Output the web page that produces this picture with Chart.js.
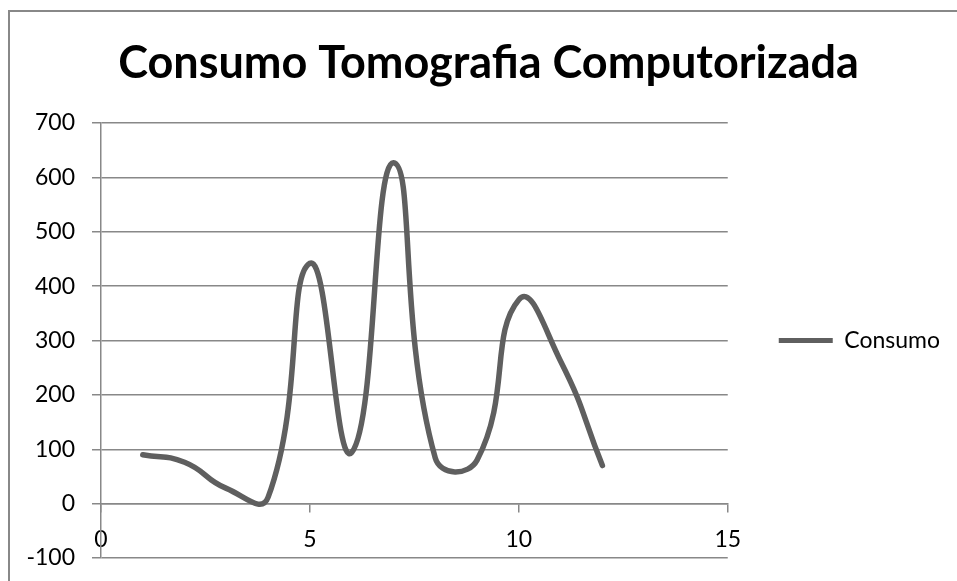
<!DOCTYPE html>
<html>
<head>
<meta charset="utf-8">
<script src="https://cdn.jsdelivr.net/npm/chart.js@4.4.0/dist/chart.umd.min.js"></script>
<style>
  html, body { margin: 0; padding: 0; background: #fff; }
  #wrap { position: relative; width: 957px; height: 581px; overflow: hidden; }
  #frame { position: absolute; left: 8px; top: 10px; width: 1000px; height: 1000px; border: 2px solid #888; }
  canvas { position: absolute; left: 0; top: 0; }
</style>
</head>
<body>
<div id="wrap">
  <div id="frame"></div>
  <canvas id="chart" width="957" height="581"></canvas>
</div>
<script>
// datos
var xValues = [1, 2, 3, 4, 5, 6, 7, 8, 9, 10, 11, 12];
var consumo = [90, 76, 28, 12, 442, 94, 627, 84, 80, 375, 262, 70];
var serieNombre = "Consumo";
var titulo = "Consumo Tomografia Computorizada";

var gris = "#888888";
var lineaColor = "#5f5f5f";
var fuente = "Lato, 'DejaVu Sans', sans-serif";

var puntos = xValues.map(function (x, i) {
  return { x: x, y: consumo[i] };
});

var ctx = document.getElementById("chart").getContext("2d");

var myChart = new Chart(ctx, {
  type: "scatter",
  data: {
    datasets: [
      {
        label: serieNombre,
        data: puntos,
        showLine: true,
        borderColor: lineaColor,
        backgroundColor: lineaColor,
        borderWidth: 5.5,
        borderCapStyle: "round",
        borderJoinStyle: "round",
        pointRadius: 0,
        tension: 0.5,
      },
    ],
  },
  options: {
    responsive: false,
    animation: false,
    layout: { padding: { left: 27, right: 7, top: 12, bottom: 23 } },
    plugins: {
      title: {
        display: true,
        text: titulo,
        color: "#000",
        font: { family: fuente, size: 45, weight: "bold" },
        padding: { top: 24, bottom: 33 },
      },
      legend: {
        position: "right",
        fullSize: false,
        labels: {
          color: "#000",
          font: { family: fuente, size: 23 },
          boxWidth: 54,
          boxHeight: 5,
          padding: 51,
          generateLabels: function (chart) {
            var items = Chart.defaults.plugins.legend.labels.generateLabels(chart);
            items.forEach(function (it) {
              it.lineWidth = 0;
              it.fillStyle = lineaColor;
            });
            return items;
          },
        },
      },
      tooltip: { enabled: false },
    },
    scales: {
      x: {
        type: "linear",
        position: { y: 0 },
        min: 0,
        max: 15,
        ticks: {
          stepSize: 5,
          color: "#000",
          font: { family: fuente, size: 23 },
          padding: 14,
          maxRotation: 0,
        },
        grid: { drawOnChartArea: false, drawTicks: true, tickLength: 8, color: gris, lineWidth: 1.5 },
        border: { display: true, color: gris, width: 1.5 },
      },
      y: {
        min: -100,
        max: 700,
        ticks: {
          stepSize: 100,
          color: "#000",
          font: { family: fuente, size: 23 },
          padding: 3,
        },
        // marca larga para separar las etiquetas, solo se ven 9px junto al eje
        grid: {
          color: gris,
          lineWidth: 1.5,
          tickLength: 23,
          tickBorderDash: [9, 14],
          tickBorderDashOffset: 9,
        },
        border: { display: true, color: gris, width: 1.5 },
        afterFit: function (scale) {
          scale.width = 74;
        },
      },
    },
  },
});
</script>
</body>
</html>
